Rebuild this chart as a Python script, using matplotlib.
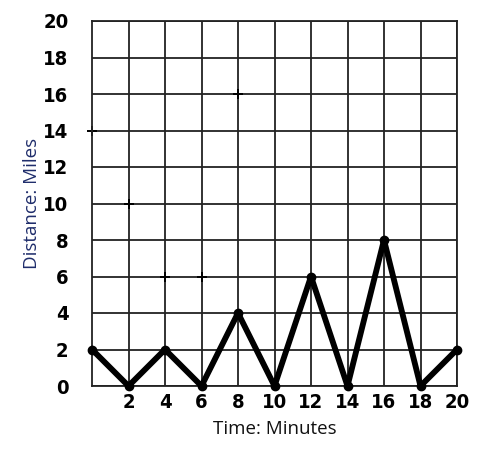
import matplotlib
import matplotlib.pyplot as plt

matplotlib.use("Agg")

# trip data: time (minutes) vs distance (miles)
time_min = [0, 2, 4, 6, 8, 10, 12, 14, 16, 18, 20]
distance_mi = [2, 0, 2, 0, 4, 0, 6, 0, 8, 0, 2]

# small stray cross marks on the grid
mark_x = [0, 2, 4, 6, 8]
mark_y = [14, 10, 6, 6, 16]

x_ticks = [2, 4, 6, 8, 10, 12, 14, 16, 18, 20]
y_ticks = [0, 2, 4, 6, 8, 10, 12, 14, 16, 18, 20]


def main():
    fig = plt.figure(figsize=(4.87, 4.57), dpi=100)
    ax = fig.add_axes([92 / 487, 71 / 457, 365 / 487, 365 / 457])

    ax.set_xlim(0, 20)
    ax.set_ylim(0, 20)
    ax.grid(True, color="#222222", linewidth=1.3)
    for s in ax.spines.values():
        s.set_color("#222222")
        s.set_linewidth(1.3)

    tick_font = {"family": "DejaVu Sans", "stretch": "condensed",
                 "weight": "bold", "size": 14.5}
    ax.set_xticks(x_ticks, [str(t) for t in x_ticks], **tick_font)
    ax.set_yticks(y_ticks, [str(t) for t in y_ticks], **tick_font)
    ax.tick_params(length=0)
    ax.tick_params(axis="y", pad=17)
    ax.tick_params(axis="x", pad=5)

    ax.plot(time_min, distance_mi, color="black", linewidth=4.2,
            marker="o", markersize=6, clip_on=False, zorder=3)
    ax.plot(mark_x, mark_y, "+", color="black", markersize=7,
            markeredgewidth=1.4, linestyle="none", clip_on=False)

    ax.set_xlabel("Time: Minutes", family="Open Sans", fontsize=13.5,
                  color="#111111", va="center")
    ax.set_ylabel("Distance: Miles", family="Open Sans", fontsize=13.5,
                  color="#1f2d6b", va="center")
    ax.xaxis.set_label_coords(0.5, -(429 - 386) / 365)
    ax.yaxis.set_label_coords(-(92 - 32) / 365, 0.5)

    fig.savefig("out.png", dpi=100)
    return 0


if __name__ == "__main__":
    main()
